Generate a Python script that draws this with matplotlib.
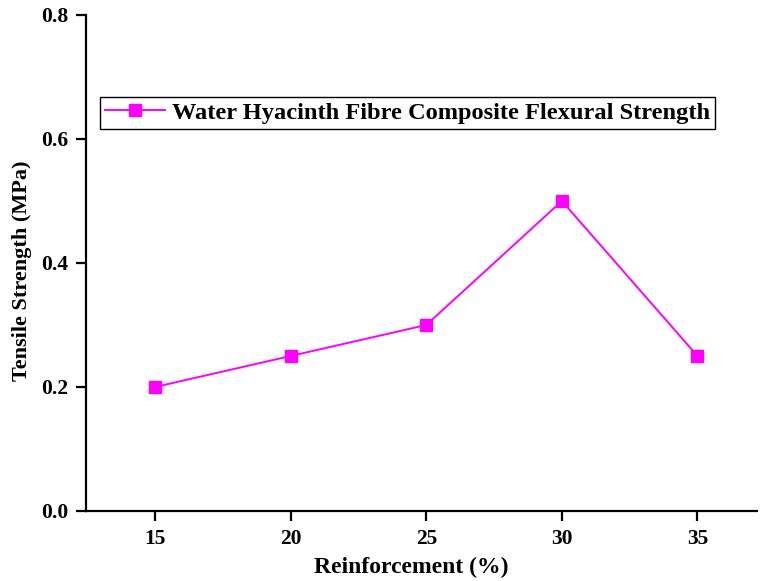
import matplotlib
matplotlib.use("Agg")
import matplotlib.pyplot as plt

reinforcement = [15, 20, 25, 30, 35]
strength = [0.20, 0.25, 0.30, 0.50, 0.25]
x_ticks = [15, 20, 25, 30, 35]
y_ticks = [0.0, 0.2, 0.4, 0.6, 0.8]
series_label = "Water Hyacinth Fibre Composite Flexural Strength"

plt.rcParams['font.family'] = ['Liberation Serif', 'DejaVu Serif']
plt.rcParams['font.weight'] = 'bold'

fig = plt.figure(figsize=(7.6, 5.81), dpi=100)
ax = fig.add_axes([0.1132, 0.1205, 0.883, 0.8537])

ax.plot(reinforcement, strength, color='#FF00FF', lw=1.4, marker='s',
        markersize=9, label=series_label)

ax.set_xlim(12.45, 37.2)
ax.set_ylim(0.0, 0.8)
ax.set_xticks(x_ticks)
ax.set_yticks(y_ticks)
ax.set_yticklabels([f"{v:.1f}" for v in y_ticks])

for side in ('top', 'right'):
    ax.spines[side].set_visible(False)
for side in ('left', 'bottom'):
    ax.spines[side].set_linewidth(1.6)

ax.tick_params(direction='out', length=7, width=1.6, labelsize=15.5, pad=6)
for lbl in ax.get_xticklabels() + ax.get_yticklabels():
    lbl.set_fontweight('bold')

ax.set_xlabel("Reinforcement (%)", fontsize=17, fontweight='bold')
ax.set_ylabel("Tensile Strength (MPa)", fontsize=16, fontweight='bold')
ax.xaxis.set_label_coords(0.484, -0.092)
ax.yaxis.set_label_coords(-0.080, 0.484)

leg = ax.legend(loc='upper left', bbox_to_anchor=(0.1316, 0.833),
                bbox_transform=fig.transFigure, fancybox=False, framealpha=1,
                edgecolor='black', handlelength=2.45, handletextpad=0.3,
                borderpad=0.2, borderaxespad=0,
                prop={'size': 17.6, 'weight': 'bold'})
leg.get_frame().set_linewidth(1.0)

fig.savefig("out.png", dpi=100)
